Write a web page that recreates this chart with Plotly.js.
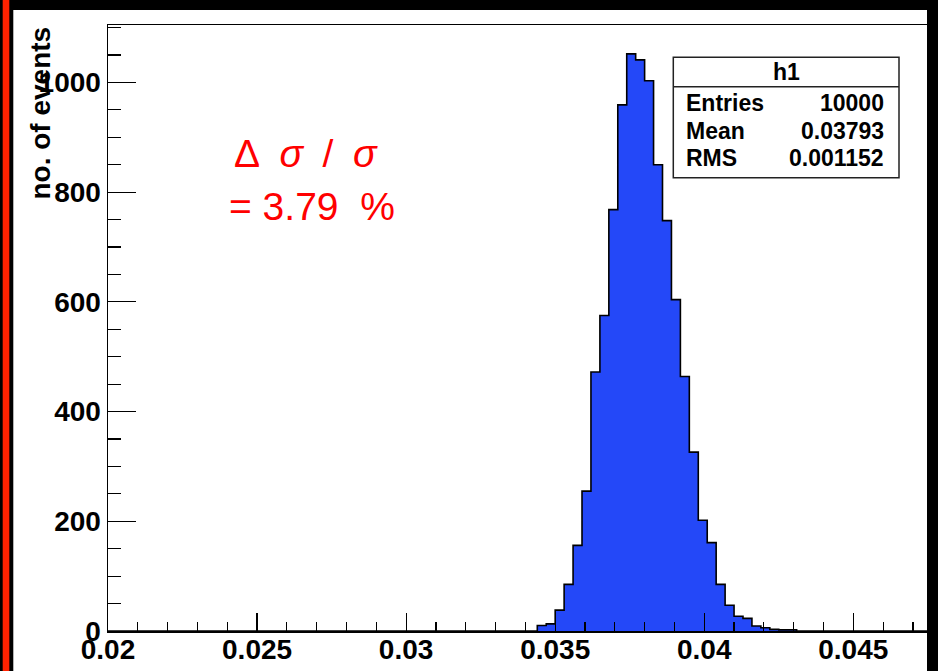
<!DOCTYPE html>
<html>
<head>
<meta charset="utf-8">
<script src="https://cdn.plot.ly/plotly-3.0.1.min.js"></script>
<style>
  html, body { margin: 0; padding: 0; background: #000; }
  #chart { width: 938px; height: 671px; }
</style>
</head>
<body>
<div id="chart"></div>
<script>
// Histogram h1: 100 bins on [0.02, 0.05]
const xMin = 0.02;
const xMax = 0.05;
const nBins = 100;
const counts = [
  0, 0, 0, 0, 0, 0, 0, 0, 0, 0,
  0, 0, 0, 0, 0, 0, 0, 0, 0, 0,
  0, 0, 0, 0, 0, 0, 0, 0, 0, 0,
  0, 0, 0, 0, 0, 0, 0, 0, 0, 0,
  0, 0, 0, 0, 0, 0, 0, 0, 10, 13,
  38, 85, 156, 255, 472, 575, 768, 959, 1052, 1041,
  1003, 850, 748, 604, 464, 326, 202, 161, 85, 47,
  27, 23, 9, 6, 3, 2, 2, 0, 0, 0,
  0, 0, 0, 0, 0, 0, 0, 0, 0, 0,
  0, 0, 0, 0, 0, 0, 0, 0, 0, 0
];

// Axis ticks
const xTickVals = [0.02, 0.025, 0.03, 0.035, 0.04, 0.045];
const xTickText = ['0.02', '0.025', '0.03', '0.035', '0.04', '0.045'];
const yTickVals = [0, 200, 400, 600, 800, 1000];
const yTickText = ['0', '200', '400', '600', '800', '1000'];
const yTitle = 'no. of events';

// Statistics box
const statsName = 'h1';
const statsLabels = ['Entries', 'Mean', 'RMS'];
const statsValues = ['10000', '0.03793', '0.001152'];

// Resolution note
const noteLines = ['\u0394\u2002<i>\u03C3</i>\u2002/\u2002<i>\u03C3</i>', '= 3.79 \u00A0%'];

// ---- build the outline of the histogram (step contour, filled) ----
const binW = (xMax - xMin) / nBins;
const xs = [], ys = [];
for (let k = 0; k < nBins; k++) {
  xs.push(xMin + k * binW);
  ys.push(counts[k]);
}
xs.push(xMax); ys.push(counts[nBins - 1]);
xs.push(xMax); ys.push(0);

const yMax = 1.05 * Math.max(...counts);

// figure geometry (pixels)
const W = 938, H = 671;
const M = { l: 108, r: 11, t: 25, b: 40 };
const PW = W - M.l - M.r, PH = H - M.t - M.b;
const px = x => (x - M.l) / PW;           // pixel x -> paper x
const py = y => (H - M.b - y) / PH;       // pixel y -> paper y

const boldFont = { family: 'Liberation Sans, Arial, sans-serif', color: '#000', weight: 'bold' };

const trace = {
  type: 'scatter',
  mode: 'lines',
  x: xs,
  y: ys,
  line: { shape: 'hv', color: '#000', width: 1.6 },
  fill: 'tozeroy',
  fillcolor: '#2448F8',
  hoverinfo: 'skip'
};

const shapes = [
  // white canvas
  { type: 'rect', xref: 'paper', yref: 'paper', layer: 'below',
    x0: px(13.3), x1: px(927), y0: py(H + 5), y1: py(10),
    fillcolor: '#fff', line: { width: 0 } },
  // red strip on the left
  { type: 'rect', xref: 'paper', yref: 'paper', layer: 'above',
    x0: px(2.7), x1: px(9.3), y0: py(H + 5), y1: py(-5),
    fillcolor: '#FF2200', line: { width: 0 } },
  // stats box
  { type: 'rect', xref: 'paper', yref: 'paper', layer: 'above',
    x0: px(673.3), x1: px(899), y0: py(177.7), y1: py(57.3),
    fillcolor: '#fff', line: { color: '#222', width: 1.5 } },
  { type: 'line', xref: 'paper', yref: 'paper', layer: 'above',
    x0: px(673.3), x1: px(899), y0: py(86.7), y1: py(86.7),
    line: { color: '#222', width: 1.5 } }
];

const statFont = Object.assign({}, boldFont, { size: 23 });
const annotations = [
  { xref: 'paper', yref: 'paper', x: px(40), y: 1, xanchor: 'center', yanchor: 'top',
    text: yTitle, textangle: -90, showarrow: false,
    font: Object.assign({}, boldFont, { size: 28 }) },
  { xref: 'paper', yref: 'paper', x: px(786), y: py(72), xanchor: 'center', yanchor: 'middle',
    text: statsName, showarrow: false, font: statFont }
];
const rowY = [103, 131, 158];
statsLabels.forEach((lab, i) => {
  annotations.push({ xref: 'paper', yref: 'paper', x: px(684), y: py(rowY[i]),
    xanchor: 'left', yanchor: 'middle', text: lab, showarrow: false, font: statFont });
  annotations.push({ xref: 'paper', yref: 'paper', x: px(886), y: py(rowY[i]),
    xanchor: 'right', yanchor: 'middle', text: statsValues[i], showarrow: false, font: statFont });
});
const noteFont = { family: 'Liberation Sans, Arial, sans-serif', color: '#FF0000', size: 39 };
annotations.push({ xref: 'paper', yref: 'paper', x: px(306), y: py(154), xanchor: 'center', yanchor: 'middle',
  text: noteLines[0], showarrow: false, font: noteFont });
annotations.push({ xref: 'paper', yref: 'paper', x: px(312), y: py(206), xanchor: 'center', yanchor: 'middle',
  text: noteLines[1], showarrow: false, font: noteFont });

const layout = {
  width: W, height: H,
  margin: M,
  paper_bgcolor: '#000',
  plot_bgcolor: '#fff',
  showlegend: false,
  xaxis: {
    range: [xMin, xMin + PW / 29812],
    tickvals: xTickVals, ticktext: xTickText,
    ticks: 'inside', ticklen: 18, tickwidth: 1.2, tickcolor: '#000',
    minor: { dtick: 0.001, tick0: 0.02, ticks: 'inside', ticklen: 9, tickwidth: 1.2, tickcolor: '#000', showgrid: false },
    showline: true, linecolor: '#000', linewidth: 1.5, mirror: true,
    showgrid: false, zeroline: false,
    ticklabelstandoff: -7,
    tickfont: Object.assign({}, boldFont, { size: 28 })
  },
  yaxis: {
    range: [0, yMax],
    tickvals: yTickVals, ticktext: yTickText,
    ticks: 'inside', ticklen: 28, tickwidth: 1.2, tickcolor: '#000',
    minor: { dtick: 50, tick0: 0, ticks: 'inside', ticklen: 13, tickwidth: 1.2, tickcolor: '#000', showgrid: false },
    showline: true, linecolor: '#000', linewidth: 1.5, mirror: false,
    showgrid: false, zeroline: false,
    tickfont: Object.assign({}, boldFont, { size: 28 })
  },
  shapes: shapes,
  annotations: annotations
};

Plotly.newPlot('chart', [trace], layout, { displayModeBar: false, staticPlot: true });
</script>
</body>
</html>
